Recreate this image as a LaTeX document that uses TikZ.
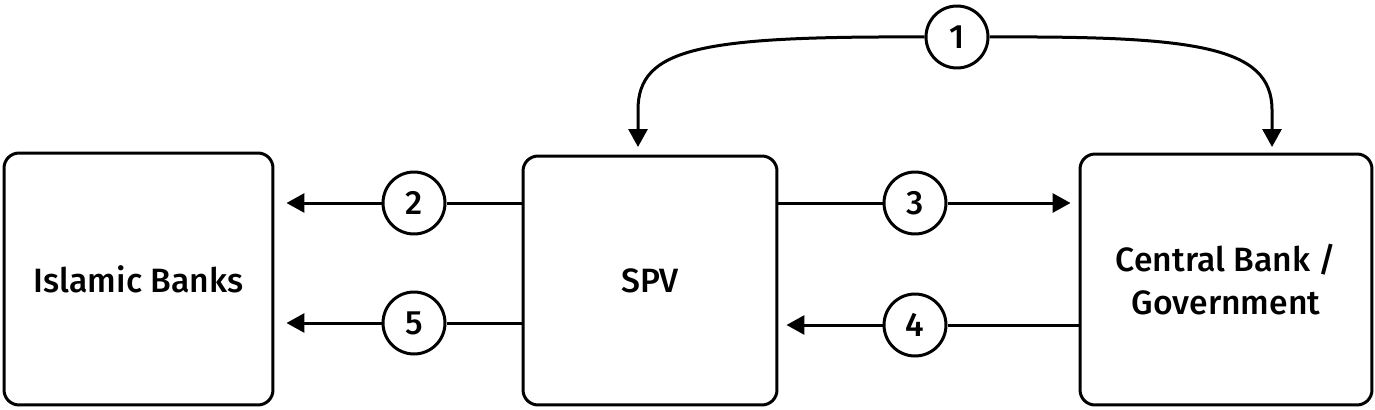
\documentclass[tikz,border=0pt]{standalone}
\usepackage{fontspec}
\setmainfont{Fira Sans}[UprightFont={* Medium}]
\usetikzlibrary{arrows.meta}

\tikzset{
  box/.style={draw, rectangle, rounded corners=0.3cm, line width=0.06cm, align=center},
  num/.style={draw, circle, fill=white, line width=0.06cm, minimum size=1.24cm, inner sep=0pt},
  arr/.style={line width=0.06cm, -{Triangle[length=0.36cm, width=0.38cm]}},
  lin/.style={line width=0.06cm}
}

\begin{document}
\begin{tikzpicture}[x=0.02cm, y=-0.02cm, font=\fontsize{19.2}{24.5}\selectfont]

\useasboundingbox (0,0) rectangle (1375,409);

\node[box, minimum width=5.38cm, minimum height=5.04cm] (banks) at(138.5,279)   {Islamic Banks};
\node[box, minimum width=5.08cm, minimum height=4.98cm] (spv)   at(650,280.5)   {SPV};
\node[box, minimum width=5.84cm, minimum height=5.02cm] (cb)    at(1226,279.5)  {Central Bank /\\Government};

\node[num] (n1) at(957,37)  {1};
\node[num] (n2) at(414,203) {2};
\node[num] (n3) at(915,203) {3};
\node[num] (n4) at(915,325) {4};
\node[num] (n5) at(414,323) {5};

\coordinate (in1) at(638,147);
\coordinate (in2) at(1272,147);

\draw[arr] (n1.west) .. controls (700,36) and (638,48) .. (638,110) -- (in1);
\draw[arr] (n1.east) .. controls (1195,36) and (1272,46) .. (1272,110) -- (in2);

\draw[lin] (spv.west |- n2) -- (n2.east);
\draw[arr, shorten >=0.24cm] (n2.west) -- (banks.east |- n2);

\draw[lin] (spv.east |- n3) -- (n3.west);
\draw[arr, shorten >=0.16cm] (n3.east) -- (cb.west |- n3);

\draw[lin] (cb.west |- n4) -- (n4.east);
\draw[arr, shorten >=0.16cm] (n4.west) -- (spv.east |- n4);

\draw[lin] (spv.west |- n5) -- (n5.east);
\draw[arr, shorten >=0.24cm] (n5.west) -- (banks.east |- n5);

\end{tikzpicture}
\end{document}
